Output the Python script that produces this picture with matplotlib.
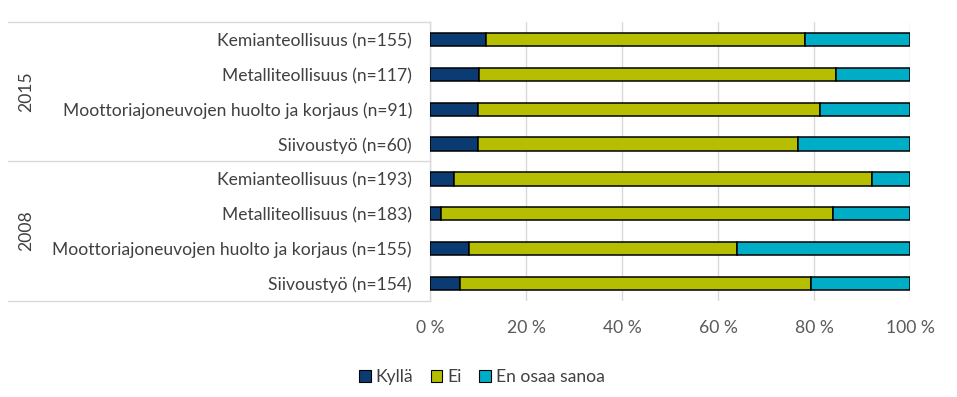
import matplotlib
matplotlib.use("Agg")
import matplotlib.pyplot as plt
from matplotlib.transforms import blended_transform_factory

plt.rcParams['font.family'] = ['Lato', 'DejaVu Sans']

categories = [
    "Kemianteollisuus (n=155)",
    "Metalliteollisuus (n=117)",
    "Moottoriajoneuvojen huolto ja korjaus (n=91)",
    "Siivoustyö (n=60)",
    "Kemianteollisuus (n=193)",
    "Metalliteollisuus (n=183)",
    "Moottoriajoneuvojen huolto ja korjaus (n=155)",
    "Siivoustyö (n=154)",
]
groups = ["2015", "2008"]
group_sizes = [4, 4]

kylla = [11.6, 10.3, 9.9, 10.0, 5.0, 2.2, 8.1, 6.3]
ei = [66.5, 74.3, 71.4, 66.7, 87.0, 81.7, 55.8, 73.1]
eos = [21.9, 15.4, 18.7, 23.3, 8.0, 16.1, 36.1, 20.6]

series_names = ["Kyllä", "Ei", "En osaa sanoa"]
colors = ["#0b3b73", "#b5be00", "#00adc6"]
xticks = [0, 20, 40, 60, 80, 100]
xtick_labels = ["0 %", "20 %", "40 %", "60 %", "80 %", "100 %"]

W, H = 957, 397
fig = plt.figure(figsize=(W / 100, H / 100), dpi=100)
ax_left, ax_right, ax_top, ax_bot = 430, 910, 22.3, 300.7
ax = fig.add_axes([ax_left / W, 1 - ax_bot / H, (ax_right - ax_left) / W, (ax_bot - ax_top) / H])

ypos = list(range(len(categories)))
left = [0] * len(categories)
for name, vals, col in zip(series_names, [kylla, ei, eos], colors):
    ax.barh(ypos, vals, left=left, height=0.38, color=col, edgecolor="black",
            linewidth=1.1, label=name, zorder=3)
    left = [l + v for l, v in zip(left, vals)]

fs = 12.6
ax.set_xlim(0, 100)
ax.set_ylim(len(categories) - 0.5, -0.5)
ax.set_xticks(xticks)
ax.set_xticklabels(xtick_labels)
ax.set_yticks(ypos)
ax.set_yticklabels(categories)
ax.tick_params(axis="y", length=0, pad=13, labelsize=fs, labelcolor="#404040")
ax.tick_params(axis="x", length=0, pad=14, labelsize=fs, labelcolor="#595959")
ax.grid(axis="x", color="#d9d9d9", linewidth=1.0, zorder=0)
ax.set_axisbelow(True)
for s in ["top", "right", "bottom"]:
    ax.spines[s].set_visible(False)
ax.spines["left"].set_color("#d9d9d9")
ax.spines["left"].set_linewidth(1.0)

# multi-level category lines and group labels
trans = blended_transform_factory(ax.transAxes, ax.transData)
x_line_start = (8 - ax_left) / (ax_right - ax_left)
x_year = (26 - ax_left) / (ax_right - ax_left)
boundary = -0.5
ax.plot([x_line_start, 0], [boundary, boundary], transform=trans, color="#d9d9d9",
        linewidth=1.0, clip_on=False)
for g, n in zip(groups, group_sizes):
    center = boundary + n / 2
    ax.text(x_year, center, g, transform=trans, rotation=90, ha="center", va="center",
            fontsize=fs, color="#404040")
    boundary += n
    ax.plot([x_line_start, 0], [boundary, boundary], transform=trans, color="#d9d9d9",
            linewidth=1.0, clip_on=False)

leg = fig.legend(loc="center", bbox_to_anchor=(482 / W, 1 - 377 / H), ncol=3, frameon=False,
                 fontsize=fs, handlelength=0.65, handleheight=0.65, handletextpad=0.3,
                 columnspacing=1.0, labelcolor="#404040")
for h in leg.legend_handles:
    h.set_linewidth(0.8)

fig.savefig("out.png", dpi=100)
